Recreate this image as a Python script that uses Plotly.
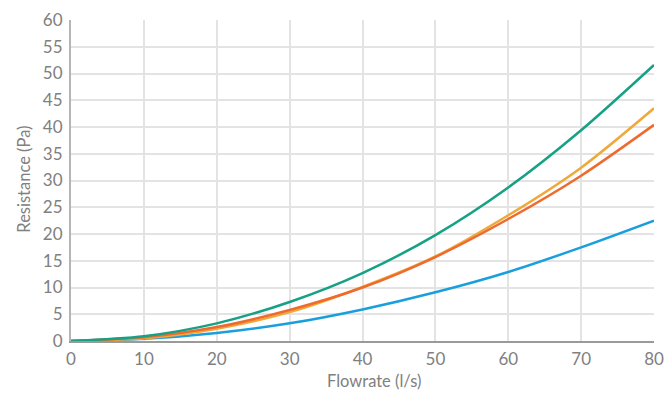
import plotly.graph_objects as go

flowrate = [0, 10, 20, 30, 40, 50, 60, 70, 80]
green = [0, 0.9, 3.3, 7.3, 12.7, 19.8, 28.7, 39.4, 51.6]
yellow = [0, 0.5, 2.3, 5.4, 10.1, 15.8, 23.5, 32.4, 43.5]
orange = [0, 0.7, 2.6, 5.8, 10.0, 15.7, 22.8, 30.9, 40.4]
blue = [0, 0.4, 1.5, 3.3, 5.9, 9.1, 12.9, 17.5, 22.5]

x_title = "Flowrate (l/s)"
y_title = "Resistance (Pa)"

series = [
    ("Series 4", blue, "#1a9fdd"),
    ("Series 2", yellow, "#efa93a"),
    ("Series 3", orange, "#ee6b2d"),
    ("Series 1", green, "#16a085"),
]

fig = go.Figure()
for name, ys, col in series:
    fig.add_trace(go.Scatter(x=flowrate, y=ys, mode="lines", name=name,
                             line=dict(color=col, width=2.5, shape="spline", smoothing=0.8)))

font_family = "Lato, Open Sans, sans-serif"
grey = "#808080"
fig.update_layout(
    width=668, height=393,
    margin=dict(l=71, r=14, t=20, b=52, autoexpand=False),
    paper_bgcolor="white", plot_bgcolor="white",
    showlegend=False,
    font=dict(family=font_family, color=grey, size=17),
    annotations=[
        dict(text=x_title, xref="paper", yref="paper", x=0.52, y=-0.125,
             xanchor="center", yanchor="middle", showarrow=False,
             font=dict(size=16.5, color=grey)),
        dict(text=y_title, xref="paper", yref="paper", x=-0.081, y=0.505,
             xanchor="center", yanchor="middle", showarrow=False, textangle=-90,
             font=dict(size=16.5, color=grey)),
    ],
)
fig.update_xaxes(
    range=[0, 80], tickvals=list(range(0, 81, 10)), automargin=False,
    showgrid=True, gridcolor="#e3e3e3", gridwidth=1.5,
    showline=True, linecolor="#9a9a9a", linewidth=2,
    zeroline=False, ticks="", ticklen=0, ticklabelstandoff=2,
    tickfont=dict(size=17, color=grey),
)
fig.update_yaxes(
    range=[0, 60], tickvals=list(range(0, 61, 5)), automargin=False,
    showgrid=True, gridcolor="#e3e3e3", gridwidth=1.5,
    showline=True, linecolor="#b5b5b5", linewidth=2,
    zeroline=False, ticks="", ticklen=0, ticklabelstandoff=3,
    tickfont=dict(size=17, color=grey),
)
fig.write_html("out.html", config={"displayModeBar": False},
               post_script="document.body.style.margin='0';")
